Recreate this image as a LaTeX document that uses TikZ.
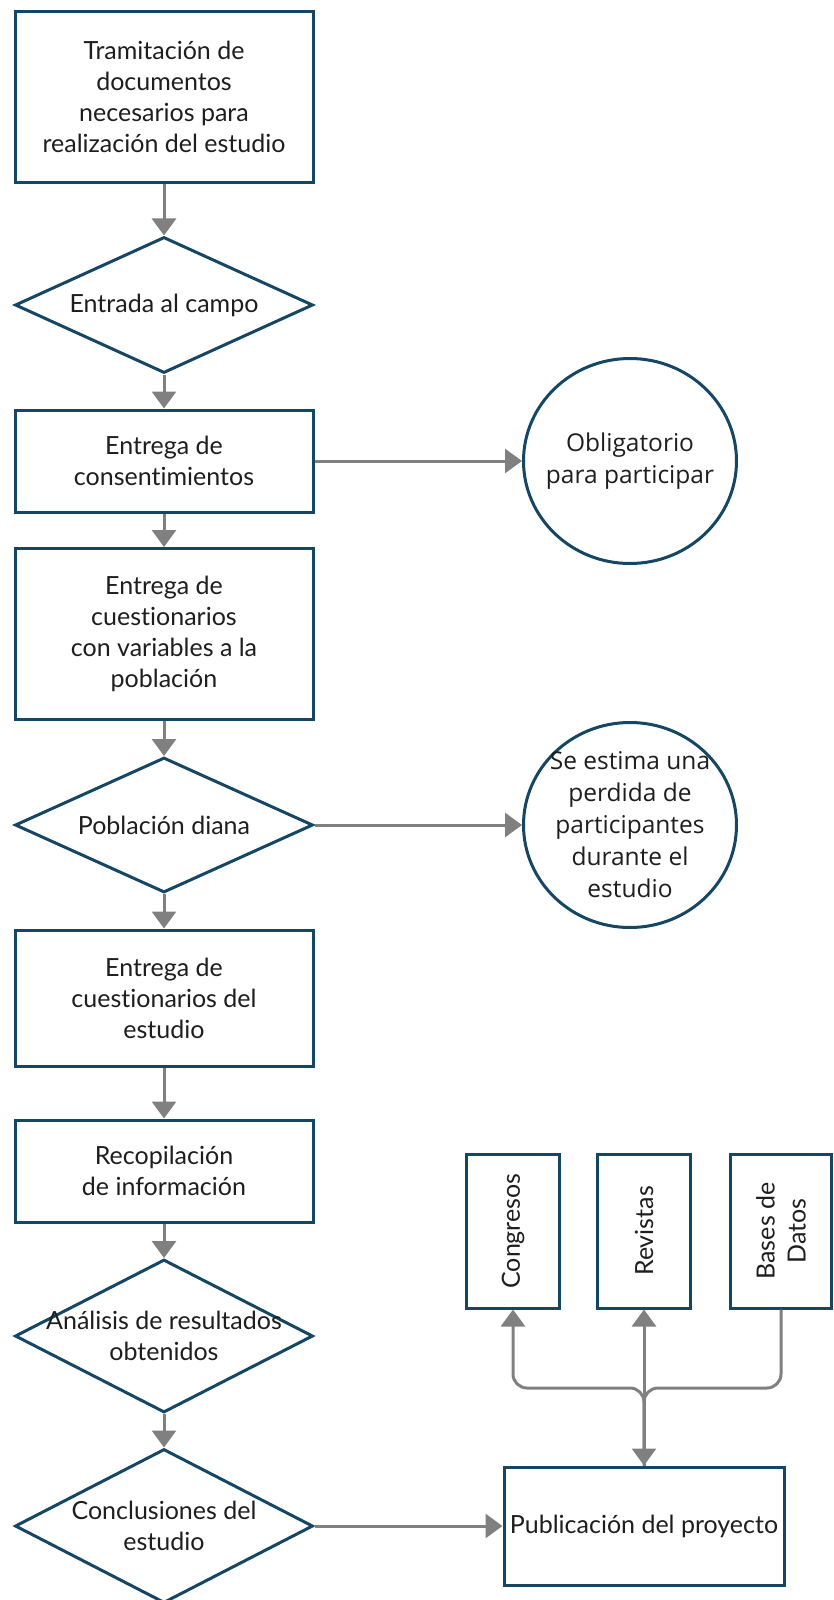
\documentclass[tikz,border=0pt]{standalone}
\usepackage{fontspec}
\setmainfont{Lato}[Ligatures=NoCommon]
\newfontfamily\notefont{Open Sans}
\usetikzlibrary{shapes.geometric,arrows.meta,positioning}
\definecolor{bordo}{RGB}{21,70,100}
\definecolor{flecha}{RGB}{128,128,128}
\definecolor{texto}{RGB}{30,30,30}

\begin{document}
\begin{tikzpicture}[x=1pt, y=-1pt,
txt/.style = {align=center, text=texto, font=\fontsize{25}{31}\selectfont},
notetxt/.style = {align=center, text=texto, font=\notefont\fontsize{24.5}{32}\selectfont},
block/.style = {rectangle, draw=bordo, line width=3pt, fill=white, minimum width=298pt,
	align=center, inner sep=2pt, text=texto, font=\fontsize{25}{31}\selectfont},
decision/.style = {diamond, draw=bordo, line width=3pt, fill=white, minimum width=298pt,
	inner sep=0pt},
note/.style = {ellipse, draw=bordo, line width=3pt, fill=white, minimum width=213pt,
	minimum height=205pt, inner sep=0pt},
bar/.style = {rectangle, draw=bordo, line width=3pt, fill=white, minimum width=93pt,
	minimum height=154pt},
line/.style = {draw=flecha, line width=3pt, -{Triangle[length=17pt,width=24pt]}}]

\useasboundingbox (0,0) rectangle (834,1600);

% main column
\node [block, minimum height=171pt] (tramite) at (164,97)
	{Tramitación de\\documentos\\necesarios para\\realización del estudio};
\node [decision, minimum height=136pt, label={[txt]center:Entrada al campo}] (campo) at (164,305) {};
\node [block, minimum height=102pt] (consent) at (164,461) {Entrega de\\consentimientos};
\node [block, minimum height=171pt] (cuest) at (164,634)
	{Entrega de\\cuestionarios\\con variables a la\\población};
\node [decision, minimum height=135pt, label={[txt]center:Población diana}] (diana) at (164,825) {};
\node [block, minimum height=136pt] (cuestest) at (164,998)
	{Entrega de\\cuestionarios del\\estudio};
\node [block, minimum height=102pt] (recop) at (164,1171) {Recopilación\\de información};
\node [decision, minimum height=153pt,
	label={[txt]center:{Análisis de resultados\\obtenidos}}] (analisis) at (164,1336) {};
\node [decision, minimum height=154pt,
	label={[txt]center:{Conclusiones del\\estudio}}] (concl) at (164,1526) {};

% side notes
\node [note, label={[notetxt]center:{Obligatorio\\para participar}}] (oblig) at (630,461) {};
\node [note, label={[notetxt]center:{Se estima una\\perdida de\\participantes\\durante el\\estudio}}]
	(perdida) at (630,825) {};

% publication
\node [block, minimum width=280pt, minimum height=118pt] (pub) at (644,1526) {Publicación del proyecto};
\node [bar, label={[txt,rotate=90]center:Congresos}] (congresos) at (513,1231) {};
\node [bar, label={[txt,rotate=90]center:Revistas}] (revistas) at (644,1231) {};
\node [bar, minimum width=101pt, label={[txt,rotate=90]center:{Bases de\\Datos}}] (bases) at (781,1231) {};
\coordinate (fork) at (644,1388);

\begin{scope}[every path/.style=line]
\path (tramite) -- (campo);
\path (campo) -- (consent);
\path (consent) -- (cuest);
\path (cuest) -- (diana);
\path (diana) -- (cuestest);
\path (cuestest) -- (recop);
\path (recop) -- (analisis);
\path (analisis) -- (concl);
\path (consent) -- (oblig);
\path (diana) -- (perdida);
\path (concl) -- (pub);
\path [rounded corners=14pt] (pub.north) -- (fork) -| (congresos);
\path (pub.north) -- (revistas);
\path [rounded corners=14pt] (bases) |- (fork) -- (pub.north);
\end{scope}

\end{tikzpicture}
\end{document}
